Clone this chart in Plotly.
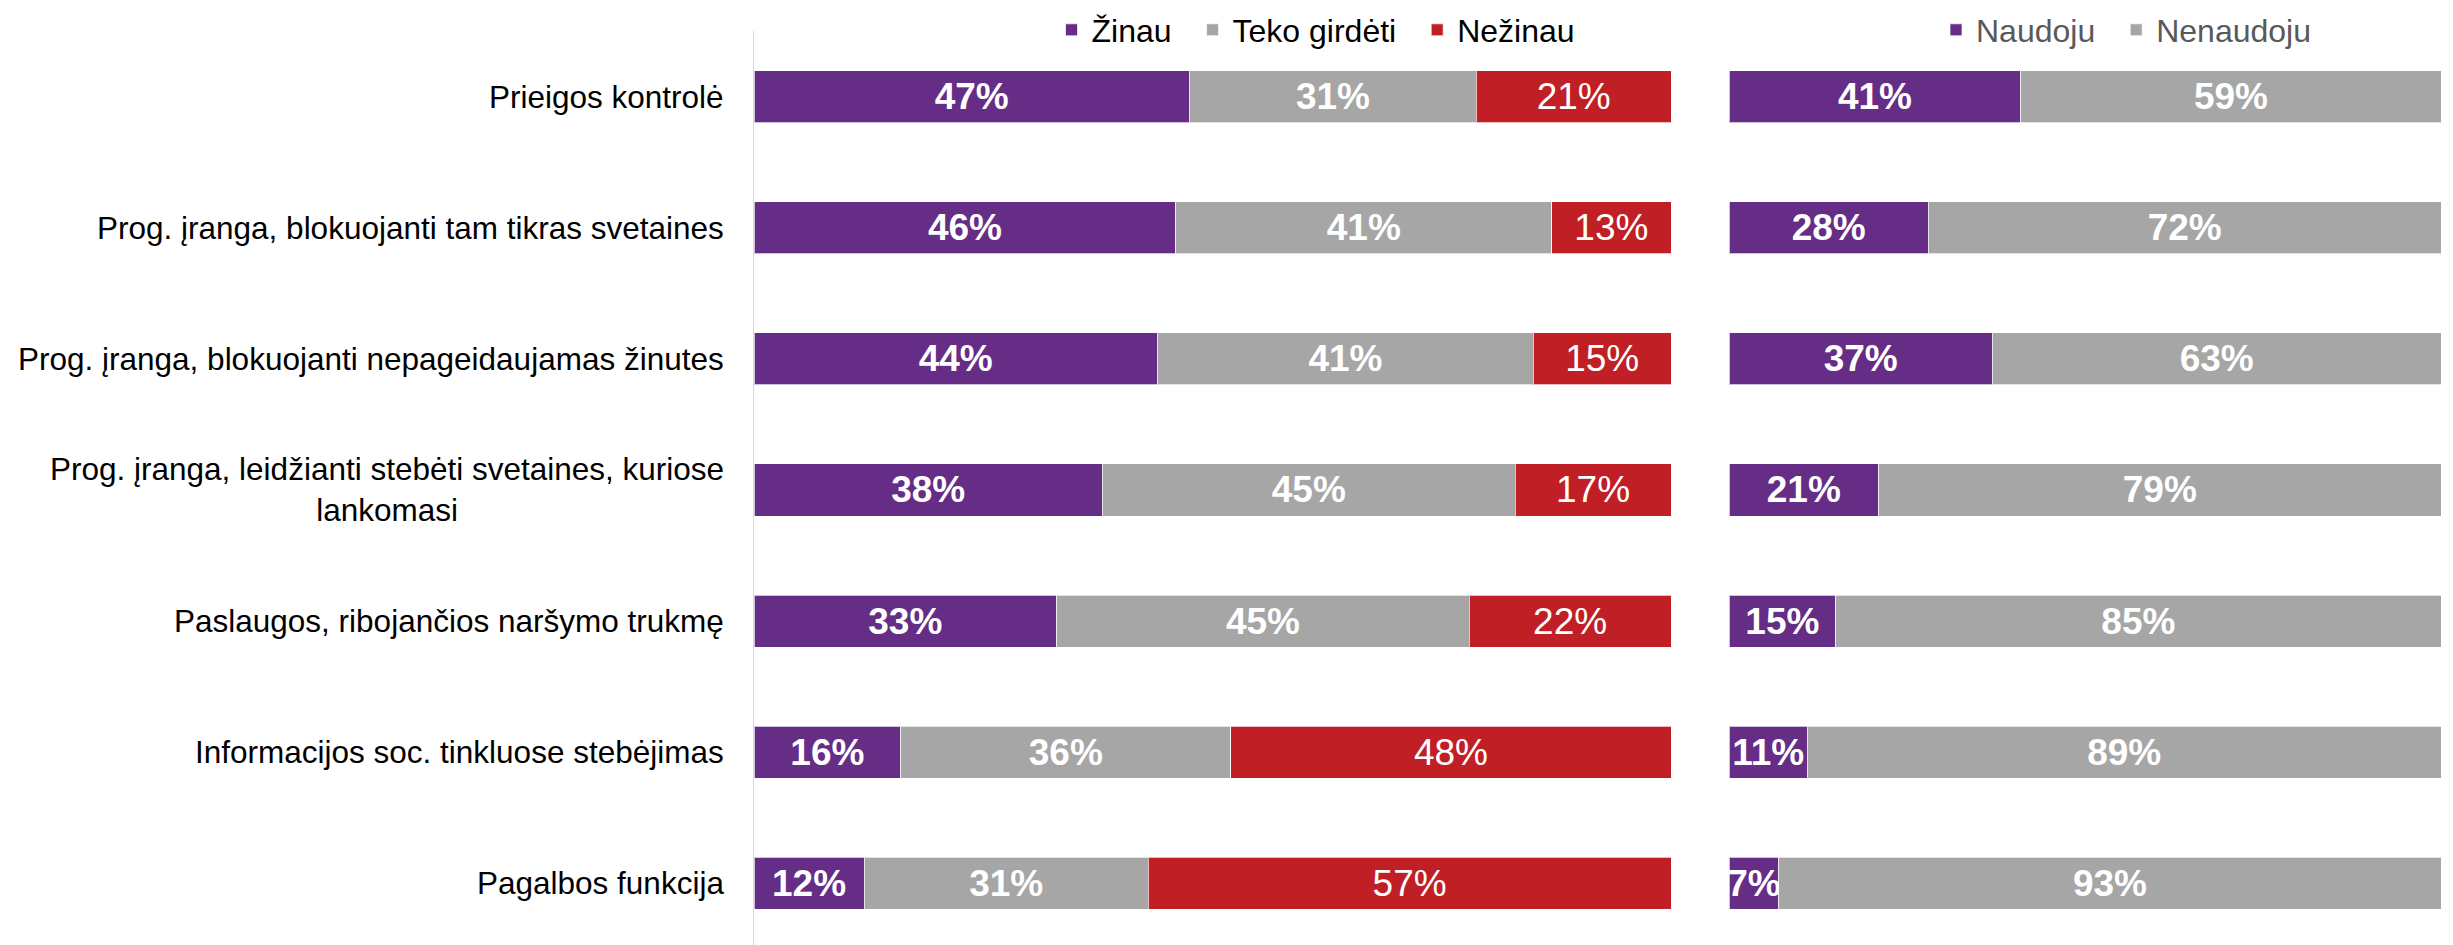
import plotly.graph_objects as go

categories = [
    "Prieigos kontrolė",
    "Prog. įranga, blokuojanti tam tikras svetaines",
    "Prog. įranga, blokuojanti nepageidaujamas žinutes",
    "Prog. įranga, leidžianti stebėti svetaines, kuriose<br>lankomasi",
    "Paslaugos, ribojančios naršymo trukmę",
    "Informacijos soc. tinkluose stebėjimas",
    "Pagalbos funkcija",
]
zinau = [47, 46, 44, 38, 33, 16, 12]
teko_girdeti = [31, 41, 41, 45, 45, 36, 31]
nezinau = [21, 13, 15, 17, 22, 48, 57]
naudoju = [41, 28, 37, 21, 15, 11, 7]
nenaudoju = [59, 72, 63, 79, 85, 89, 93]

PURPLE = "#652D86"
GRAY = "#A6A6A6"
RED = "#BF1F25"
FONT = "Liberation Sans, Arial, sans-serif"
LBL = 37
GAP = "\u2002"  # extra spacing between legend entries

def pct(v):
    return [f"{x}%" for x in v]

fig = go.Figure()

def add_bar(vals, name, color, xa, ya, legend, bold=True):
    fig.add_trace(go.Bar(
        y=categories, x=vals, name=name, orientation="h",
        marker=dict(color=color, line=dict(color="rgba(255,255,255,0.7)", width=1)),
        text=pct(vals), textposition="inside", insidetextanchor="middle",
        textangle=0, constraintext="none",
        textfont=dict(family=FONT, size=LBL, color="white",
                      weight="bold" if bold else "normal"),
        xaxis=xa, yaxis=ya, legend=legend, width=0.397,
        hoverinfo="skip",
    ))

add_bar(zinau, "Žinau" + GAP, PURPLE, "x", "y", "legend", True)
add_bar(teko_girdeti, "Teko girdėti" + GAP, GRAY, "x", "y", "legend", True)
add_bar(nezinau, "Nežinau", RED, "x", "y", "legend", False)
add_bar(naudoju, "Naudoju" + GAP, PURPLE, "x2", "y2", "legend2", True)
add_bar(nenaudoju, "Nenaudoju", GRAY, "x2", "y2", "legend2", True)

for c in categories:
    fig.add_annotation(
        x=0, y=c, xref="x", yref="y", text=c, showarrow=False,
        xanchor="right", yanchor="middle", align="center", xshift=-28,
        font=dict(family=FONT, size=31.5, color="#000000"),
    )

W, H = 2453, 945
OFF = 8  # page body margin compensation
LEG_Y = 1 - (30 - OFF) / H
fig.update_layout(
    width=W, height=H, autosize=False,
    margin=dict(l=0, r=0, t=31 - OFF, b=OFF, pad=0, autoexpand=False),
    barmode="stack", barnorm="percent",
    plot_bgcolor="white", paper_bgcolor="white",
    font=dict(family=FONT),
    xaxis=dict(domain=[(754 - OFF) / W, (1671 - OFF) / W], range=[0, 100], visible=False),
    xaxis2=dict(domain=[(1729 - OFF) / W, (2441 - OFF) / W], range=[0, 100], visible=False, anchor="y2"),
    yaxis=dict(type="category", categoryorder="array", categoryarray=categories,
               range=[6.47, -0.5], showline=True, linecolor="#D9D9D9", linewidth=1,
               showticklabels=False, showgrid=False, zeroline=False, ticks=""),
    yaxis2=dict(type="category", categoryorder="array", categoryarray=categories,
                range=[6.47, -0.5], anchor="x2", matches="y", showline=False,
                showticklabels=False, showgrid=False, zeroline=False),
    legend=dict(orientation="h", x=1308 / W, xanchor="center", y=LEG_Y, yanchor="middle",
                yref="container",
                font=dict(family=FONT, size=32, color="#000000"), traceorder="normal",
                bgcolor="rgba(0,0,0,0)"),
    legend2=dict(orientation="h", x=2118 / W, xanchor="center", y=LEG_Y, yanchor="middle",
                 yref="container",
                 font=dict(family=FONT, size=32, color="#595959"), traceorder="normal",
                 bgcolor="rgba(0,0,0,0)"),
    showlegend=True,
)

fig.write_html("out.html")
